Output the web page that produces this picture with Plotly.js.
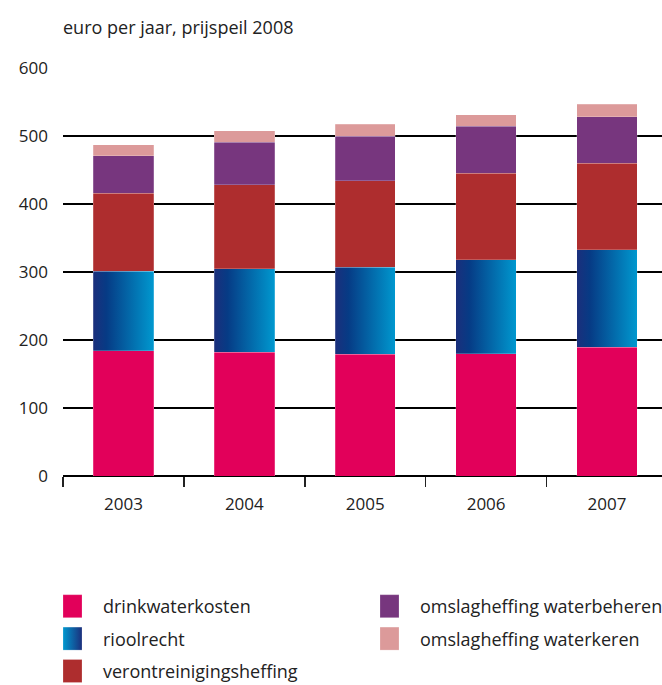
<!DOCTYPE html>
<html>
<head>
<meta charset="utf-8">
<script src="https://cdn.plot.ly/plotly-3.0.1.min.js"></script>
<style>html,body{margin:0;padding:0;background:#fff;}</style>
</head>
<body>
<div id="chart" style="width:662px;height:685px;"></div>
<script>
const years = ['2003', '2004', '2005', '2006', '2007'];
const drinkwaterkosten = [184, 182, 179, 180, 189];
const rioolrecht = [117, 123, 128, 138, 144];
const verontreinigingsheffing = [115, 123, 127, 127, 127];
const omslagWaterbeheren = [55, 63, 66, 69, 68];
const omslagWaterkeren = [16, 17, 17, 17, 19];
const yTicks = [0, 100, 200, 300, 400, 500, 600];

const FONT = '"Open Sans", Lato, sans-serif';
const FS = 18;
const TFS = 17;

function bar(name, y, color, legend, group) {
  return {
    type: 'bar', x: years, y: y, name: name,
    marker: {color: color, line: {color: 'rgba(255,255,255,0.35)', width: 0.6}},
    legend: legend, legendgroup: group,
    hoverinfo: 'skip'
  };
}

const data = [
  bar('drinkwaterkosten', drinkwaterkosten, '#e2005a', 'legend', 'a'),
  bar('rioolrecht', rioolrecht, '#0a5a9c', 'legend', 'b'),
  bar('verontreinigingsheffing', verontreinigingsheffing, '#ae2d2e', 'legend', 'c'),
  bar('omslagheffing waterbeheren', omslagWaterbeheren, '#77367e', 'legend2', 'd'),
  bar('omslagheffing waterkeren', omslagWaterkeren, '#dc9a9a', 'legend2', 'e')
];

const layout = {
  width: 662, height: 685,
  margin: {l: 63, r: 0, t: 68, b: 209, autoexpand: false},
  barmode: 'stack', bargap: 0.5,
  paper_bgcolor: '#fff', plot_bgcolor: '#fff',
  font: {family: FONT, size: FS, color: '#222'},
  title: {text: 'euro per jaar, prijspeil 2008', x: 63/662, xanchor: 'left', xref: 'container',
          y: 1 - 28/685, yanchor: 'middle', font: {family: FONT, size: FS, color: '#222'}},
  xaxis: {type: 'category', range: [-0.5, 4.455], tickson: 'boundaries', ticks: 'outside',
          ticklen: 10, tickwidth: 1.5, tickcolor: '#222', showline: false, showgrid: false,
          tickangle: 0, ticklabelstandoff: 16, tickfont: {family: FONT, size: TFS, color: '#222'}, fixedrange: true},
  yaxis: {range: [0, 600], tickvals: yTicks, showgrid: true, gridcolor: '#000', gridwidth: 1.5,
          zeroline: true, zerolinecolor: '#000', zerolinewidth: 1.5, showline: false,
          ticks: '', ticklabelstandoff: 14, tickfont: {family: FONT, size: TFS, color: '#222'}, fixedrange: true},
  showlegend: true,
  legend: {x: 42/662, xref: 'container', xanchor: 'left', y: 1 - 588/685, yref: 'container', yanchor: 'top',
           orientation: 'v', traceorder: 'grouped', tracegroupgap: 6, itemwidth: 51, bgcolor: 'rgba(0,0,0,0)',
           font: {family: FONT, size: FS, color: '#222'}},
  legend2: {x: 359/662, xref: 'container', xanchor: 'left', y: 1 - 588/685, yref: 'container', yanchor: 'top',
           orientation: 'v', traceorder: 'grouped', tracegroupgap: 6, itemwidth: 51, bgcolor: 'rgba(0,0,0,0)',
           font: {family: FONT, size: FS, color: '#222'}}
};

function applyGradient() {
  const svg = document.querySelector('#chart .main-svg');
  if (!svg) return;
  let defs = svg.querySelector('defs');
  if (!defs) { defs = document.createElementNS('http://www.w3.org/2000/svg', 'defs'); svg.insertBefore(defs, svg.firstChild); }
  const mk = (id, stops) => {
    if (document.getElementById(id)) return;
    const g = document.createElementNS('http://www.w3.org/2000/svg', 'linearGradient');
    g.setAttribute('id', id); g.setAttribute('x1', '0'); g.setAttribute('x2', '1');
    g.setAttribute('y1', '0'); g.setAttribute('y2', '0');
    stops.forEach(([o, c]) => {
      const s = document.createElementNS('http://www.w3.org/2000/svg', 'stop');
      s.setAttribute('offset', o); s.setAttribute('stop-color', c); g.appendChild(s);
    });
    defs.appendChild(g);
  };
  mk('rioolGrad', [[0, '#1b2f7c'], [0.22, '#063b85'], [1, '#0098cf']]);
  mk('rioolGradLeg', [[0, '#0098cf'], [1, '#1b2f7c']]);
  const traces = document.querySelectorAll('#chart .barlayer .trace');
  if (traces[1]) traces[1].querySelectorAll('path').forEach(p => { p.style.fill = 'url(#rioolGrad)'; });
  document.querySelectorAll('#chart .infolayer .traces').forEach(t => {
    const txt = t.querySelector('.legendtext');
    t.querySelectorAll('.legendpoints path').forEach(p => {
      p.setAttribute('d', 'M9.5,11.5H-9.5V-11.5H9.5Z');
      if (txt && txt.textContent === 'rioolrecht') p.style.fill = 'url(#rioolGradLeg)';
    });
  });
}

Plotly.newPlot('chart', data, layout, {displayModeBar: false, staticPlot: true}).then(gd => {
  applyGradient();
  gd.on('plotly_afterplot', applyGradient);
});
</script>
</body>
</html>
